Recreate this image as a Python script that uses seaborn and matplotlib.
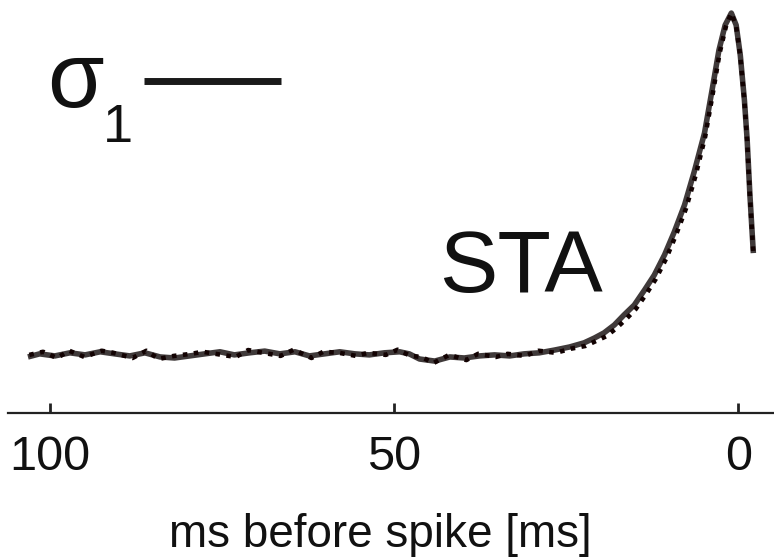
import matplotlib
matplotlib.use("Agg")
import matplotlib.pyplot as plt
from matplotlib.lines import Line2D
import seaborn as sns
import pandas as pd

# ---- data: spike-triggered average (ms before spike, normalised amplitude)
sta_ms = [103.2, 101.5, 99.3, 97.1, 94.9, 92.7, 90.6, 88.4, 86.2, 84.0, 81.9,
          79.7, 77.5, 75.3, 73.2, 71.0, 68.8, 66.6, 64.4, 62.3, 60.1, 57.9,
          55.7, 53.6, 51.4, 49.2, 47.8, 46.3, 44.1, 41.9, 39.8, 37.6, 35.4,
          33.2, 31.1, 28.9, 26.7, 24.5, 22.4, 20.9, 19.5, 18.0, 16.6, 15.1,
          13.6, 12.2, 10.7, 9.3, 7.8, 6.4, 4.9, 3.8, 2.8, 1.9, 1.0, 0.3,
          -0.3, -0.9, -1.3, -1.7, -2.2]
sta_val = [0.000, 0.009, 0.003, 0.012, 0.006, 0.015, 0.009, 0.003, 0.012,
           0.000, -0.003, 0.003, 0.009, 0.015, 0.006, 0.012, 0.017, 0.009,
           0.015, 0.003, 0.009, 0.015, 0.009, 0.006, 0.012, 0.015, 0.009,
           -0.006, -0.012, 0.000, -0.003, 0.003, 0.006, 0.003, 0.009, 0.012,
           0.020, 0.029, 0.041, 0.055, 0.070, 0.093, 0.122, 0.151, 0.195,
           0.238, 0.297, 0.363, 0.442, 0.538, 0.651, 0.776, 0.892, 0.965,
           1.000, 0.965, 0.878, 0.747, 0.631, 0.471, 0.302]

# ---- data: sigma_1 reconstruction (dotted)
fit_ms = [103.0, 101.0, 99.0, 97.2, 95.0, 92.5, 90.8, 88.0, 86.0, 84.2, 82.0,
          79.5, 77.8, 75.0, 73.0, 71.2, 69.0, 66.5, 64.6, 62.0, 60.3, 58.0,
          55.5, 53.8, 51.2, 49.5, 47.6, 46.0, 44.3, 42.0, 39.5, 37.8, 35.2,
          33.5, 31.0, 29.0, 26.5, 24.3, 22.2, 20.7, 19.2, 17.8, 16.3, 14.9,
          13.4, 12.0, 10.5, 9.1, 7.6, 6.2, 4.8, 3.7, 2.7, 1.8, 1.0, 0.3,
          -0.3, -0.9, -1.3, -1.7, -2.2]
fit_val = [0.006, 0.015, -0.003, 0.018, 0.000, 0.018, 0.012, -0.003, 0.018,
           -0.006, 0.003, 0.009, 0.015, 0.006, 0.000, 0.020, 0.012, 0.003,
           0.021, -0.003, 0.015, 0.012, 0.003, 0.012, 0.006, 0.021, 0.003,
           0.000, -0.018, 0.006, -0.009, 0.009, 0.000, 0.009, 0.003, 0.018,
           0.012, 0.024, 0.032, 0.046, 0.060, 0.082, 0.110, 0.139, 0.182,
           0.226, 0.285, 0.352, 0.431, 0.527, 0.641, 0.766, 0.884, 0.960,
           1.000, 0.962, 0.875, 0.744, 0.628, 0.468, 0.300]

x_ticks = [100, 50, 0]
x_ticklabels = ["100", "50", "0"]
x_label = "ms before spike [ms]"
legend_label = "σ"
legend_sub = "1"
sta_label = "STA"

sns.set_theme(style="white")
fam = ["Liberation Sans", "DejaVu Sans"]
plt.rcParams["font.family"] = fam

W, H = 774, 559
fig = plt.figure(figsize=(W / 100, H / 100), dpi=100)
ax = fig.add_axes([8 / W, (H - 413) / H, 766 / W, 413 / H])

sta_df = pd.DataFrame({"ms": sta_ms, "val": sta_val})
fit_df = pd.DataFrame({"ms": fit_ms, "val": fit_val})

sns.lineplot(data=sta_df, x="ms", y="val", ax=ax, color="#403a3a",
             lw=4.0, sort=False, estimator=None, solid_capstyle="butt")
sns.lineplot(data=fit_df, x="ms", y="val", ax=ax, color="#120202",
             lw=3.3, sort=False, estimator=None, linestyle=(0, (1, 1.4)),
             dash_capstyle="butt")

ax.set_xlim(106.1, -5.2)
ax.set_ylim(-0.163, 1.038)
ax.set_ylabel("")

for s in ["top", "left", "right"]:
    ax.spines[s].set_visible(False)
ax.spines["bottom"].set_linewidth(1.6)
ax.spines["bottom"].set_color("#222222")

ax.set_xticks(x_ticks)
ax.set_xticklabels(x_ticklabels)
ax.set_yticks([])
ax.tick_params(axis="x", direction="in", length=7, width=2, colors="#222222",
               labelsize=35, pad=16, bottom=True)
for t in ax.get_xticklabels():
    t.set_color("#111111")

ax.set_xlabel(x_label, fontsize=33, color="#111111")
ax.xaxis.label.set_va("baseline")
ax.xaxis.set_label_coords((380 - 8) / 766, -(547 - 413) / 413)

ax.text(43.4, (357 - 292) / 344, sta_label, fontsize=63, color="#111111",
        ha="left", va="baseline")

handle = Line2D([], [], color="#1a1a1a", lw=5, solid_capstyle="butt")
leg = ax.legend(handles=[handle], labels=[legend_label], markerfirst=False,
                frameon=False, fontsize=66, handlelength=1.5,
                handleheight=0.23, handletextpad=0.44, borderpad=0,
                borderaxespad=0, loc="upper left",
                bbox_to_anchor=(47 / W, 1 - 40 / H),
                bbox_transform=fig.transFigure)
for t in leg.get_texts():
    t.set_color("#111111")

fig.text(103 / W, 1 - 142 / H, legend_sub, fontsize=39, color="#111111",
         ha="left", va="baseline")

fig.savefig("out.png", dpi=100)
